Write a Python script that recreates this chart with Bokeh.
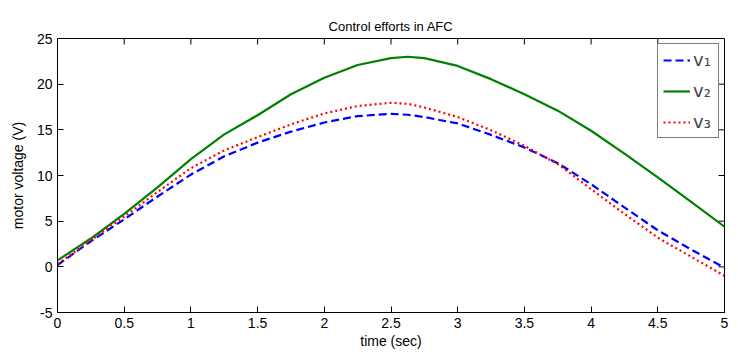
import math
from bokeh.plotting import figure
from bokeh.models import Range1d, FixedTicker, Legend, LegendItem, LinearAxis
from bokeh.embed import file_html
from bokeh.resources import INLINE

t = [0, 0.25, 0.5, 0.75, 1.0, 1.25, 1.5, 1.75, 2.0, 2.25, 2.5, 2.625, 2.75, 3.0,
     3.25, 3.5, 3.75, 4.0, 4.25, 4.5, 4.75, 5.0]
v1 = [0.2, 2.8, 5.2, 7.7, 10.1, 12.1, 13.6, 14.8, 15.8, 16.5, 16.75, 16.65, 16.4, 15.7,
      14.45, 13.07, 11.35, 9.05, 6.5, 4.0, 1.9, -0.1]
v2 = [0.7, 3.1, 5.8, 8.7, 11.8, 14.5, 16.6, 18.9, 20.7, 22.1, 22.85, 23.0, 22.85, 22.0,
      20.55, 18.9, 17.1, 14.9, 12.4, 9.8, 7.1, 4.4]
v3 = [0.3, 2.9, 5.5, 8.2, 10.8, 12.75, 14.2, 15.6, 16.8, 17.6, 17.96, 17.85, 17.45, 16.4,
      14.96, 13.25, 11.25, 8.5, 5.8, 3.2, 1.1, -0.98]
x_ticks = [0, 0.5, 1, 1.5, 2, 2.5, 3, 3.5, 4, 4.5, 5]
y_ticks = [-5, 0, 5, 10, 15, 20, 25]
labels = ["v\u2081", "v\u2082", "v\u2083"]
title_text = "Control efforts in AFC"

FONT = "Liberation Sans"
X0, X1, Y0, Y1 = 0, 5, -5, 25

p = figure(width=738, height=357, output_backend="svg", toolbar_location=None,
           x_range=Range1d(X0, X1), y_range=Range1d(Y0, Y1), title=title_text,
           min_border_left=57, min_border_right=14, min_border_top=38,
           min_border_bottom=45)
p.title.align = "center"
p.title.text_font = FONT
p.title.text_font_size = "13px"
p.title.text_font_style = "normal"
p.title.text_color = "black"
p.grid.visible = False
p.outline_line_color = "black"
p.outline_line_width = 1

xb = p.below[0]
yl = p.left[0]

for ax in (xb, yl):
    ax.major_tick_in = 6
    ax.major_tick_out = 0
    ax.minor_tick_line_color = None
    ax.axis_line_color = "black"
    ax.major_tick_line_color = "black"
    ax.major_label_text_font = FONT
    ax.major_label_text_font_size = "14px"
    ax.major_label_text_color = "black"
    ax.axis_label_text_font = FONT
    ax.axis_label_text_font_size = "14px"
    ax.axis_label_text_font_style = "normal"
    ax.axis_label_text_color = "black"

xb.ticker = FixedTicker(ticks=x_ticks)
yl.ticker = FixedTicker(ticks=y_ticks)
yl.major_label_overrides = {y: str(y) for y in y_ticks}
xb.axis_label = "time (sec)"
yl.axis_label = "motor voltage (V)"
xb.axis_label_standoff = 2
yl.axis_label_standoff = 8

# empty spacer between the frame and the title (no ticks, no labels)
spacer = LinearAxis(ticker=FixedTicker(ticks=[]), major_tick_out=6, major_tick_in=0,
                    minor_tick_out=0, minor_tick_in=0, major_tick_line_color=None,
                    minor_tick_line_color=None, axis_line_color=None,
                    major_label_standoff=0)
p.add_layout(spacer, "above")

# inward ticks on the top and right edges of the box
p.ray(x=x_ticks, y=[Y1] * len(x_ticks), length=6, length_units="screen",
      angle=-math.pi / 2, line_color="black", line_width=1)
p.ray(x=[X1] * len(y_ticks), y=y_ticks, length=6, length_units="screen",
      angle=math.pi, line_color="black", line_width=1)

r1 = p.line(t, v1, line_color="#0000ff", line_width=2.2, line_dash="8 4")
r2 = p.line(t, v2, line_color="#008000", line_width=2.2)
r3 = p.line(t, v3, line_color="#ff0000", line_width=2.2, line_dash="2 3")

legend = Legend(items=[LegendItem(label=n, renderers=[r])
                       for n, r in zip(labels, [r1, r2, r3])],
                location="top_right")
legend.border_line_color = "black"
legend.border_line_width = 1.5
legend.background_fill_color = "white"
legend.background_fill_alpha = 1
legend.label_text_font = "DejaVu Sans"
legend.label_text_font_size = "18px"
legend.glyph_width = 27
legend.glyph_height = 20
legend.label_height = 20
legend.label_standoff = 3
legend.spacing = 10
legend.padding = 5
legend.margin = 5
p.add_layout(legend)

open("out.html", "w").write(file_html(p, INLINE))
